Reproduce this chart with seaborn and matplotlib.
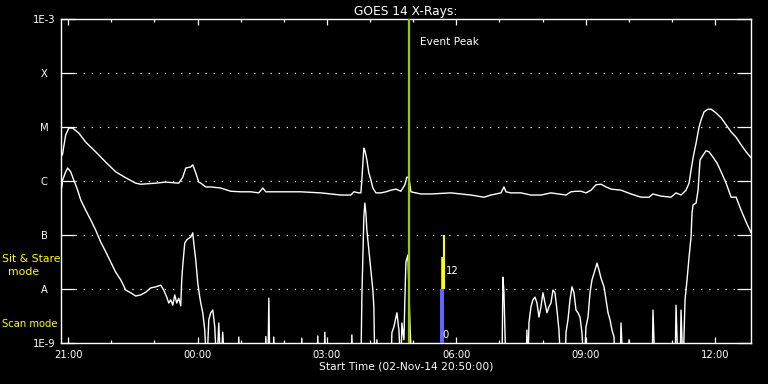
import numpy as np
import pandas as pd
import matplotlib
matplotlib.use("Agg")
import matplotlib.pyplot as plt
import seaborn as sns
from matplotlib.ticker import FixedLocator, NullLocator

# ---------------- data (hours since 00:00 on 02-Nov-14, log10 flux W/m^2) ----------------
long_hours = [20.865, 20.942, 21.012, 21.104, 21.244, 21.406, 21.638, 21.870, 22.102, 22.334,
              22.566, 22.682, 23.030, 23.262, 23.564, 23.657, 23.726, 23.842, 23.889, 23.958,
              24.028, 24.074, 24.190, 24.306, 24.538, 24.770, 25.002, 25.234, 25.420, 25.513,
              25.582, 25.930, 26.394, 26.858, 27.323, 27.555, 27.624, 27.740, 27.787, 27.810,
              27.833, 27.856, 27.879, 27.926, 27.972, 28.019, 28.065, 28.135, 28.251, 28.367,
              28.483, 28.599, 28.715, 28.807, 28.854, 28.900, 28.947, 29.179, 29.411, 29.875,
              30.339, 30.641, 30.803, 31.035, 31.105, 31.151, 31.267, 31.499, 31.731, 31.963,
              32.195, 32.543, 32.659, 32.775, 32.891, 33.007, 33.123, 33.239, 33.355, 33.471,
              33.587, 33.819, 34.051, 34.283, 34.469, 34.561, 34.747, 34.979, 35.095, 35.211,
              35.327, 35.397, 35.443, 35.490, 35.559, 35.629, 35.675, 35.745, 35.838, 35.907,
              36.023, 36.140, 36.256, 36.372, 36.488, 36.604, 36.720, 36.836]
long_logflux = [-5.52, -5.15, -5.02, -5.02, -5.11, -5.28, -5.46, -5.65, -5.83, -5.94,
                -6.04, -6.06, -6.04, -6.02, -6.04, -5.93, -5.76, -5.74, -5.70, -5.85,
                -6.02, -6.04, -6.11, -6.11, -6.13, -6.19, -6.20, -6.20, -6.22, -6.13,
                -6.20, -6.20, -6.20, -6.22, -6.26, -6.26, -6.20, -6.22, -6.22, -5.98,
                -5.67, -5.39, -5.43, -5.61, -5.85, -5.98, -6.13, -6.22, -6.22, -6.20,
                -6.17, -6.15, -6.19, -6.07, -5.93, -5.93, -6.20, -6.24, -6.24, -6.22,
                -6.26, -6.30, -6.26, -6.22, -6.11, -6.20, -6.22, -6.22, -6.26, -6.26,
                -6.22, -6.26, -6.20, -6.19, -6.19, -6.22, -6.17, -6.07, -6.06, -6.11,
                -6.15, -6.17, -6.24, -6.30, -6.30, -6.24, -6.28, -6.30, -6.22, -6.26,
                -6.17, -6.04, -5.80, -5.57, -5.30, -5.00, -4.87, -4.72, -4.67, -4.67,
                -4.74, -4.83, -4.96, -5.09, -5.19, -5.33, -5.46, -5.57]

short_hours = [20.849, 20.872, 20.942, 20.988, 21.058, 21.128, 21.220, 21.290, 21.406, 21.522,
               21.638, 21.754, 21.870, 21.986, 22.102, 22.218, 22.334, 22.450, 22.566, 22.682,
               22.798, 22.914, 23.030, 23.146, 23.216, 23.285, 23.332, 23.378, 23.425, 23.471,
               23.517, 23.564, 23.610, 23.633, 23.657, 23.703, 23.749, 23.796, 23.842, 23.889,
               23.912, 23.958, 24.005, 24.051, 24.074, 24.121, 24.167, 24.213, 24.260, 24.306,
               24.353, 24.399, 24.445, 24.492, 24.538, 24.584, 24.631, 24.933, 24.956, 24.979,
               25.560, 25.583, 25.606, 25.630, 25.653, 25.676, 25.745, 25.768, 25.791, 26.394,
               26.417, 26.440, 26.765, 26.788, 26.811, 26.928, 26.951, 26.974, 27.555, 27.578,
               27.601, 27.787, 27.810, 27.833, 27.856, 27.879, 27.903, 27.926, 27.972, 28.019,
               28.065, 28.088, 28.112, 28.135, 28.158, 28.181, 28.483, 28.506, 28.553, 28.622,
               28.669, 28.715, 28.738, 28.785, 28.807, 28.831, 28.877, 28.924, 28.970, 31.058,
               31.081, 31.105, 31.151, 31.615, 31.638, 31.661, 31.684, 31.731, 31.777, 31.824,
               31.870, 31.916, 31.963, 32.009, 32.056, 32.102, 32.148, 32.195, 32.241, 32.288,
               32.334, 32.380, 32.427, 32.520, 32.543, 32.589, 32.636, 32.682, 32.729, 32.775,
               32.821, 32.868, 32.914, 32.961, 33.007, 33.054, 33.100, 33.146, 33.216, 33.262,
               33.309, 33.355, 33.425, 33.471, 33.518, 33.564, 33.610, 33.657, 33.680, 33.796,
               33.819, 33.866, 33.982, 34.005, 34.028, 34.538, 34.561, 34.607, 35.072, 35.095,
               35.142, 35.188, 35.211, 35.257, 35.304, 35.350, 35.397, 35.443, 35.466, 35.490,
               35.559, 35.606, 35.652, 35.722, 35.791, 35.861, 35.954, 36.047, 36.140, 36.256,
               36.372, 36.488, 36.604, 36.720, 36.836]
short_logflux = [-6.13, -5.98, -5.83, -5.76, -5.83, -5.98, -6.17, -6.35, -6.54, -6.72,
                 -6.91, -7.13, -7.31, -7.50, -7.69, -7.83, -8.02, -8.07, -8.13, -8.11,
                 -8.06, -7.98, -7.96, -7.93, -8.02, -8.15, -8.26, -8.20, -8.30, -8.11,
                 -8.26, -8.17, -8.31, -7.83, -7.56, -7.15, -7.09, -7.06, -7.04, -6.96,
                 -7.15, -7.46, -7.89, -8.15, -8.26, -8.44, -8.76, -9.5, -8.57, -8.44,
                 -8.39, -8.70, -9.5, -8.63, -9.5, -8.80, -9.5, -9.5, -8.89, -9.5,
                 -9.5, -8.88, -9.5, -9.5, -8.17, -9.5, -9.5, -8.89, -9.5, -9.5,
                 -8.91, -9.5, -9.5, -8.87, -9.5, -9.5, -8.80, -9.5, -9.5, -8.85,
                 -9.5, -9.5, -8.15, -7.41, -6.67, -6.41, -6.59, -6.91, -7.28, -7.65,
                 -8.02, -8.33, -9.5, -9.5, -8.94, -9.5, -9.5, -8.81, -8.70, -8.44,
                 -8.76, -9.5, -8.63, -8.94, -8.20, -7.50, -7.37, -8.63, -9.5, -9.5,
                 -7.78, -8.07, -9.5, -9.5, -8.76, -9.5, -8.63, -8.33, -8.20, -8.15,
                 -8.26, -8.52, -8.33, -8.07, -8.26, -8.44, -8.33, -8.26, -8.02, -8.07,
                 -8.39, -8.76, -9.5, -9.5, -8.81, -8.57, -8.20, -7.96, -8.07, -8.39,
                 -8.44, -8.52, -8.81, -9.5, -8.70, -8.52, -8.07, -7.83, -7.65, -7.52,
                 -7.65, -7.80, -7.96, -8.20, -8.44, -8.57, -8.76, -8.89, -9.5, -9.5,
                 -8.63, -9.5, -9.5, -8.94, -9.5, -9.5, -8.39, -9.5, -9.5, -8.30,
                 -9.5, -9.5, -8.39, -9.5, -8.20, -7.83, -7.41, -7.04, -6.59, -6.44,
                 -6.41, -6.17, -5.61, -5.52, -5.44, -5.46, -5.56, -5.67, -5.83, -6.04,
                 -6.30, -6.30, -6.54, -6.76, -6.96]

level_values = [1e-9, 1e-8, 1e-7, 1e-6, 1e-5, 1e-4, 1e-3]
level_labels = ["1E-9", "A", "B", "C", "M", "X", "1E-3"]
grid_levels = [1e-8, 1e-7, 1e-6, 1e-5, 1e-4]

hour_ticks = [21, 24, 27, 30, 33, 36]
hour_tick_labels = ["21:00", "00:00", "03:00", "06:00", "09:00", "12:00"]
start_hour = 20 + 50 / 60
span_hours = 16.0

event_peak_hour = 28.90
sit_stare_hour = 29.712
sit_stare_range = [1e-8, 1e-7]
sit_stare_thick_range = [1e-8, 10 ** -7.41]
scan_hour = 29.673
scan_range = [1e-9, 1e-8]

# ---------------- style ----------------
sns.set_theme(style="dark")
plt.rcParams["font.family"] = ["DejaVu Sans"]
FS = 7.2
W, H = 768, 384

fig = plt.figure(figsize=(W / 100, H / 100), dpi=100, facecolor="black")
ax = fig.add_axes([61 / W, 41 / H, 690 / W, 324 / H])
ax.set_facecolor("black")

df_long = pd.DataFrame({"hour": long_hours, "flux": 10 ** np.array(long_logflux)})
df_short = pd.DataFrame({"hour": short_hours, "flux": 10 ** np.array(short_logflux)})
sns.lineplot(data=df_long, x="hour", y="flux", color="white", linewidth=1.0,
             estimator=None, sort=False, ax=ax)
sns.lineplot(data=df_short, x="hour", y="flux", color="white", linewidth=1.0,
             estimator=None, sort=False, ax=ax)

ax.set_yscale("log")
ax.set_ylim(level_values[0], level_values[-1])
ax.set_xlim(start_hour, start_hour + span_hours)

# dotted level lines
x0f, x1f = 14 / 690, 676 / 690
for lv in grid_levels:
    ax.axhline(lv, xmin=x0f, xmax=x1f, color="white", linewidth=0.9,
               linestyle=(0, (1, 5.5)), zorder=1)

# event peak line and mode bars
ax.axvline(event_peak_hour, color="#99cc00", linewidth=1.6, zorder=3)
ax.text(29.155, 10 ** -3.43, "Event Peak", color="white", fontsize=7.6,
        ha="left", va="center")
ax.vlines(sit_stare_hour, *sit_stare_range, color="#ffff00", linewidth=1.5, zorder=4)
ax.vlines(sit_stare_hour - 0.01, *sit_stare_thick_range, color="#ffff00", linewidth=2.6, zorder=4)
ax.vlines(scan_hour, *scan_range, color="#6464ff", linewidth=2.9, zorder=4)
ax.text(29.765, 10 ** -7.66, "12", color="white", fontsize=FS, ha="left", va="center", zorder=5)
ax.text(29.76, 10 ** -8.86, "0", color="white", fontsize=FS, ha="center", va="center", zorder=5)

# axes decoration
for sp in ax.spines.values():
    sp.set_color("white")
    sp.set_linewidth(1.0)
    sp.set_visible(True)

ax.yaxis.set_major_locator(FixedLocator(level_values))
ax.yaxis.set_minor_locator(NullLocator())
ax.set_yticklabels(level_labels)
ax.tick_params(axis="y", which="major", direction="in", length=10, width=0.9,
               color="white", left=True, right=True, labelcolor="white",
               labelsize=FS, pad=12)
for lab in ax.get_yticklabels():
    lab.set_horizontalalignment("center")

ax.xaxis.set_major_locator(FixedLocator(hour_ticks))
ax.xaxis.set_minor_locator(FixedLocator(np.arange(21, 37, 1)))
ax.set_xticklabels(hour_tick_labels)
ax.tick_params(axis="x", which="major", direction="in", length=4.3, width=0.9,
               color="white", bottom=True, top=True, labelcolor="white",
               labelsize=FS, pad=5)
ax.tick_params(axis="x", which="minor", direction="in", length=2.2, width=0.9,
               color="white", bottom=True, top=True)
ax.grid(False)

ax.set_title("GOES 14 X-Rays:", color="white", fontsize=8.8, pad=3)
ax.set_xlabel("Start Time (02-Nov-14 20:50:00)", color="white", fontsize=7.7, labelpad=1)
ax.set_ylabel("")

# left-side mode annotations
fig.text(2 / W, 1 - 259 / H, "Sit & Stare", color="#ffff00", fontsize=7.8, ha="left", va="center")
fig.text(24 / W, 1 - 272 / H, "mode", color="#ffff00", fontsize=7.8, ha="center", va="center")
fig.text(2 / W, 1 - 324 / H, "Scan mode", color="#ffff00", fontsize=7.2, ha="left", va="center")

fig.savefig("out.png", dpi=100, facecolor="black")
